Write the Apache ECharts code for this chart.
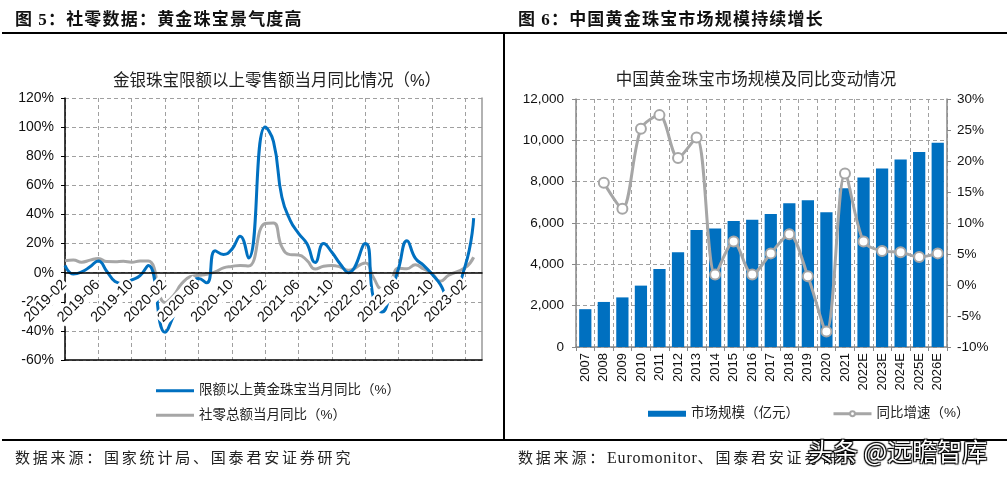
<!DOCTYPE html>
<html>
<head>
<meta charset="utf-8">
<script src="https://cdn.jsdelivr.net/npm/echarts@6/dist/echarts.min.js"></script>
<style>
  html, body { margin: 0; padding: 0; background: #fff; }
  #wrap { position: relative; width: 1007px; height: 477px; overflow: hidden; }
  #chart { position: absolute; left: 0; top: 0; width: 1007px; height: 477px; }
  .hdr { position: absolute; top: 7px; font-family: "Noto Sans CJK SC", sans-serif; font-weight: 700; font-size: 17px; letter-spacing: 1.2px; color: #111; line-height: 22px; white-space: nowrap; }
  .hdr .num { font-family: "Liberation Serif", serif; font-weight: 700; }
  .src { position: absolute; top: 446px; font-family: "Noto Sans CJK SC", sans-serif; font-weight: 400; font-size: 15px; letter-spacing: 2.8px; color: #222; line-height: 22px; white-space: nowrap; }
  .src .lat { font-family: "Liberation Serif", serif; letter-spacing: 0.8px; font-size: 16px; }
  .rule { position: absolute; background: #000; }
  #wm { position: absolute; left: 808px; top: 435px; font-family: "Noto Sans CJK SC", sans-serif; font-size: 25px; color: #fff; white-space: nowrap; line-height: 30px;
        text-shadow: 0 0 1px #000, 1px 1px 1px #000, -1px -1px 1px #000, 1px -1px 1px #000, -1px 1px 1px #000; }
</style>
</head>
<body>
<div id="wrap">
  <div id="chart"></div>
  <div class="rule" style="left:2px; top:32px; width:1005px; height:2px;"></div>
  <div class="rule" style="left:503px; top:32px; width:2px; height:408px;"></div>
  <div class="rule" style="left:2px; top:439px; width:1005px; height:2px;"></div>
  <div class="hdr" style="left:15px;">图 <span class="num">5</span>：社零数据：黄金珠宝景气度高</div>
  <div class="hdr" style="left:518px;">图 <span class="num">6</span>：中国黄金珠宝市场规模持续增长</div>
  <div class="src" style="left:15px;">数据来源：国家统计局、国泰君安证券研究</div>
  <div class="src" style="left:518px;">数据来源：<span class="lat">Euromonitor</span>、国泰君安证券研究</div>
  <div id="wm">头条 @远瞻智库</div>
</div>
<script>
// ---------- Left chart data (monthly YoY, %) ----------
const monthCats = [
  '2019-02','2019-03','2019-04','2019-05','2019-06','2019-07','2019-08','2019-09','2019-10','2019-11','2019-12',
  '2020-01','2020-02','2020-03','2020-04','2020-05','2020-06','2020-07','2020-08','2020-09','2020-10','2020-11','2020-12',
  '2021-01','2021-02','2021-03','2021-04','2021-05','2021-06','2021-07','2021-08','2021-09','2021-10','2021-11','2021-12',
  '2022-01','2022-02','2022-03','2022-04','2022-05','2022-06','2022-07','2022-08','2022-09','2022-10','2022-11','2022-12',
  '2023-01','2023-02','2023-03','2023-04'
];
const jewelryYoY = [
  5, -1, 0.5, 4, 8, 1, -6, -7.5, -5, -2, 5,
  null, -41, -30, -18, -8, -4, -7, 15, 12.5, 16, 25, 10,
  null, 100, 90, 52, 36, 27, 20, 7, 20, 14, 6, 0,
  null, 20, -18, -27, -15, 3, 22, 10, 5, -1, -8, -18,
  null, 5, 37.5, null
];
const retailYoY = [
  8.2, 8.7, 7.2, 8.6, 9.8, 7.6, 7.5, 7.8, 7.2, 8.0, 8.0,
  null, -20.5, -15.8, -7.5, -2.8, -1.8, -1.1, 0.5, 3.3, 4.3, 5.0, 4.6,
  null, 33.8, 34.2, 17.7, 12.4, 12.1, 8.5, 2.5, 4.4, 4.9, 3.9, 1.7,
  null, 6.7, -3.5, -11.1, -6.7, 3.1, 2.7, 5.4, 2.5, -0.5, -5.9, -1.8,
  null, 3.5, 10.6, null
];
const leftNames = ['限额以上黄金珠宝当月同比（%）', '社零总额当月同比（%）'];
const leftTitle = '金银珠宝限额以上零售额当月同比情况（%）';
const leftYMin = -60, leftYMax = 120, leftYStep = 20;

// ---------- Right chart data ----------
const yearCats = ['2007','2008','2009','2010','2011','2012','2013','2014','2015','2016','2017','2018','2019','2020','2021','2022E','2023E','2024E','2025E','2026E'];
const marketSize = [1830, 2180, 2400, 2970, 3780, 4590, 5660, 5730, 6100, 6160, 6440, 6950, 7100, 6520, 7680, 8200, 8640, 9070, 9440, 9880];
const growthRate = [null, 16.5, 12.3, 25.2, 27.4, 20.5, 23.8, 1.7, 7.0, 1.7, 5.1, 8.2, 1.4, -7.5, 18.0, 7.0, 5.5, 5.3, 4.5, 5.1];
const rightNames = ['市场规模（亿元）', '同比增速（%）'];
const rightTitle = '中国黄金珠宝市场规模及同比变动情况';

const FONT = '"Liberation Sans", "Noto Sans CJK SC", sans-serif';
const BLUE = '#0070C0';
const GRAY = '#A6A6A6';
const GRID_LINE = { show: true, lineStyle: { type: [4, 3], color: '#A0A0A0', width: 1 } };

const W = 1007, H = 477;
const g0 = { left: 65, right: 525, top: 98, bottom: 117 };
const g0Height = H - g0.top - g0.bottom;
// move the label axis up to the 0% level (Excel-style "axis crosses at 0")
const zeroOffset = -g0Height * (0 - leftYMin) / (leftYMax - leftYMin);

const chart = echarts.init(document.getElementById('chart'));
chart.setOption({
  animation: false,
  textStyle: { fontFamily: FONT },
  graphic: [
    { type: 'text', x: 277, y: 81, style: { text: leftTitle, fontSize: 16.5, fontFamily: FONT, fill: '#222', align: 'center', verticalAlign: 'middle' } },
    { type: 'text', x: 756, y: 80, style: { text: rightTitle, fontSize: 16.5, fontFamily: FONT, fill: '#222', align: 'center', verticalAlign: 'middle' } }
  ],
  legend: [
    {
      orient: 'vertical', left: 151, top: 379, itemWidth: 38, itemHeight: 3, itemGap: 11, icon: 'rect',
      textStyle: { fontSize: 13.5, color: '#222', fontFamily: FONT },
      data: leftNames
    },
    {
      orient: 'horizontal', left: 643, top: 402, itemWidth: 38, itemHeight: 6, itemGap: 33,
      textStyle: { fontSize: 13.5, color: '#222', fontFamily: FONT },
      lineStyle: { width: 3 },
      data: [ { name: rightNames[0], icon: 'rect' }, { name: rightNames[1] } ]
    }
  ],
  grid: [
    g0,
    { left: 576, right: 60, top: 99, bottom: 130 }
  ],
  xAxis: [
    { // labels + zero line (drawn above the lines, like the original)
      gridIndex: 0, type: 'category', data: monthCats, boundaryGap: false, z: 10,
      position: 'bottom', offset: zeroOffset,
      axisLine: { onZero: false, lineStyle: { color: '#000', width: 1.5 } },
      axisTick: { show: false },
      axisLabel: { interval: 3, rotate: 45, margin: 9, fontSize: 14.5, color: '#111', backgroundColor: '#fff', padding: [1, 1] },
      splitLine: { show: false }
    },
    { // grid lines + bottom border
      gridIndex: 0, type: 'category', data: monthCats, boundaryGap: false, position: 'bottom',
      axisLine: { onZero: false, lineStyle: { color: '#000', width: 1.5 } },
      axisTick: { show: false }, axisLabel: { show: false },
      splitLine: Object.assign({ interval: 3 }, GRID_LINE)
    },
    {
      gridIndex: 1, type: 'category', data: yearCats, boundaryGap: true,
      axisLine: { lineStyle: { color: '#888', width: 1.5 } },
      axisTick: { show: true, length: 4, lineStyle: { color: '#888' } },
      axisLabel: { interval: 0, rotate: 90, margin: 6, fontSize: 13, color: '#111' },
      splitLine: Object.assign({ interval: 0 }, GRID_LINE)
    }
  ],
  yAxis: [
    {
      gridIndex: 0, type: 'value', min: leftYMin, max: leftYMax, interval: leftYStep,
      axisLine: { show: true, lineStyle: { color: '#000', width: 1.5 } },
      axisTick: { show: true, length: 4, lineStyle: { color: '#000' } },
      axisLabel: { formatter: '{value}%', fontSize: 14, color: '#111', margin: 11 },
      splitLine: GRID_LINE
    },
    {
      gridIndex: 0, type: 'value', min: leftYMin, max: leftYMax, interval: leftYStep, position: 'right',
      axisLine: { show: true, lineStyle: { color: '#999', width: 1.5 } },
      axisTick: { show: false }, axisLabel: { show: false }, splitLine: { show: false }
    },
    {
      gridIndex: 1, type: 'value', min: 0, max: 12000, interval: 2000,
      axisLine: { show: true, lineStyle: { color: '#888', width: 1.5 } },
      axisTick: { show: true, length: 4, lineStyle: { color: '#888' } },
      axisLabel: { fontSize: 13.5, color: '#111', margin: 12,
        formatter: v => v.toLocaleString('en-US') },
      splitLine: GRID_LINE
    },
    {
      gridIndex: 1, type: 'value', min: -10, max: 30, interval: 5, position: 'right',
      axisLine: { show: true, lineStyle: { color: '#888', width: 1.5 } },
      axisTick: { show: true, length: 4, lineStyle: { color: '#888' } },
      axisLabel: { formatter: '{value}%', fontSize: 13.5, color: '#111', margin: 10 },
      splitLine: { show: false }
    }
  ],
  series: [
    {
      name: leftNames[1], type: 'line', xAxisIndex: 1, yAxisIndex: 0, data: retailYoY,
      smooth: true, connectNulls: true, showSymbol: false, symbol: 'none',
      lineStyle: { color: GRAY, width: 3 }, itemStyle: { color: GRAY }, z: 2
    },
    {
      name: leftNames[0], type: 'line', xAxisIndex: 1, yAxisIndex: 0, data: jewelryYoY,
      smooth: true, connectNulls: true, showSymbol: false, symbol: 'none',
      lineStyle: { color: BLUE, width: 3 }, itemStyle: { color: BLUE }, z: 3
    },
    {
      name: rightNames[0], type: 'bar', xAxisIndex: 2, yAxisIndex: 2, data: marketSize,
      barWidth: '66%', itemStyle: { color: BLUE }
    },
    {
      name: rightNames[1], type: 'line', xAxisIndex: 2, yAxisIndex: 3, data: growthRate,
      smooth: 0.3, connectNulls: false, symbol: 'circle', symbolSize: 10, showSymbol: true,
      lineStyle: { color: GRAY, width: 3 },
      itemStyle: { color: '#fff', borderColor: GRAY, borderWidth: 2 }, z: 4
    }
  ]
});
</script>
</body>
</html>
